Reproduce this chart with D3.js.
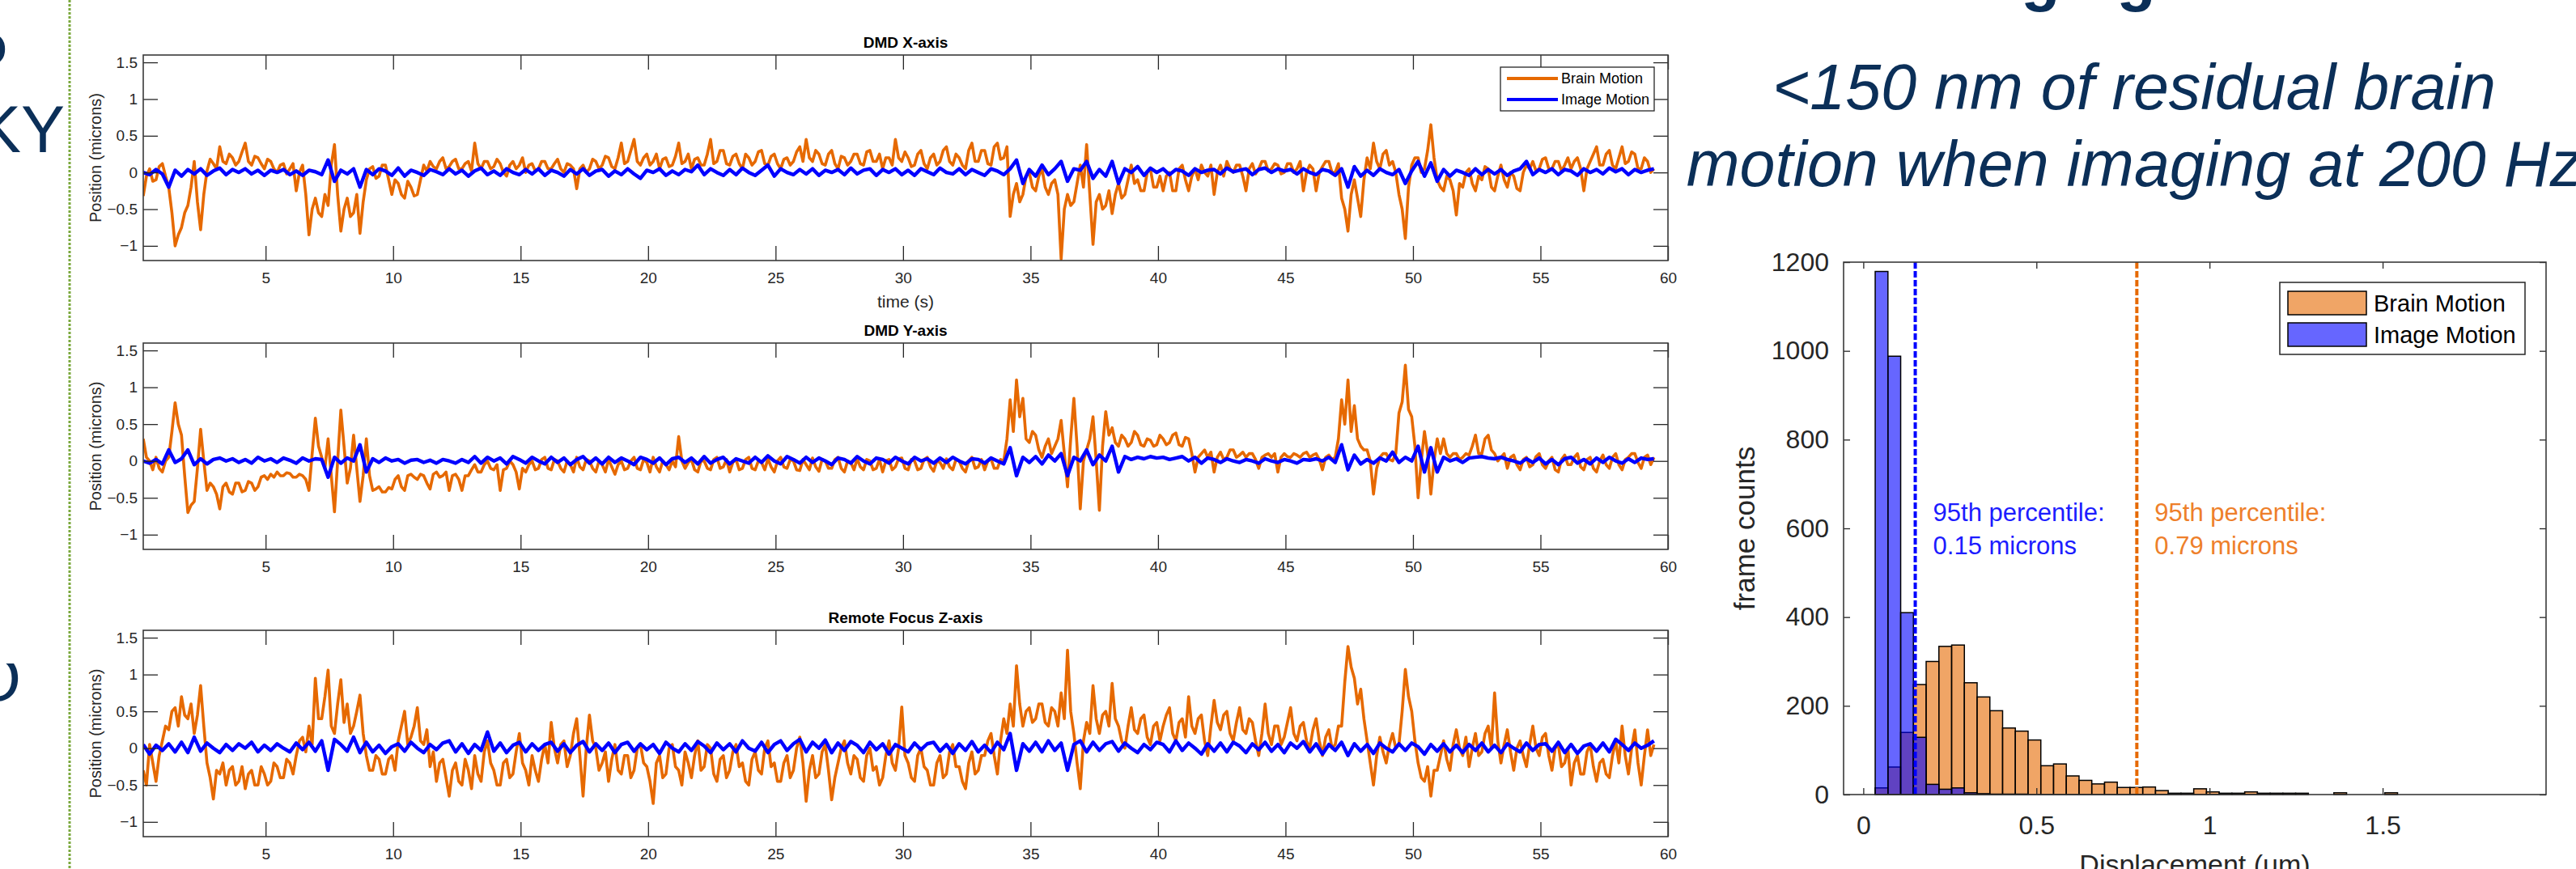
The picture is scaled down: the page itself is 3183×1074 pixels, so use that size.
<!DOCTYPE html>
<html><head><meta charset="utf-8">
<script src="https://cdn.jsdelivr.net/npm/d3@7"></script>
<style>body{margin:0;background:#fff;overflow:hidden}svg{display:block;font-family:"Liberation Sans",Arial,Helvetica,sans-serif}</style>
</head><body><svg id="c" width="3183" height="1074"></svg>
<script>
// ---- time series: samples start at T0 seconds; brain every BRAIN_DT s, image every IMAGE_DT s ----
const T0 = 0.2, BRAIN_DT = 0.125, IMAGE_DT = 0.25;
const brainX = [
-0.32,-0.05,0.05,-0.12,-0.1,0.08,0.12,-0.05, -0.2,-0.55,-1.0,-0.85,-0.75,-0.55,-0.45,-0.2,
0.15,-0.4,-0.78,-0.3,0.02,0.18,0.12,0.05, 0.35,0.15,0.12,0.25,0.2,0.1,0.15,0.28,
0.4,0.15,0.1,0.22,0.2,0.12,0.05,0.18, 0.15,0.05,0.0,0.1,0.12,-0.02,0.05,0.12,
-0.25,0.0,0.1,-0.3,-0.85,-0.5,-0.35,-0.55, -0.6,-0.3,-0.45,0.1,0.38,-0.3,-0.8,-0.5,
-0.35,-0.6,-0.55,-0.3,-0.83,-0.4,-0.1,0.05, 0.08,-0.08,-0.05,0.1,0.1,-0.1,-0.3,-0.1,
-0.15,-0.3,-0.35,-0.12,-0.2,-0.32,-0.3,-0.1, 0.1,0.02,0.15,0.08,0.05,0.15,0.2,0.05,
0.08,0.15,0.18,0.05,0.05,0.12,0.15,0.02, 0.4,0.12,0.05,0.15,0.15,0.05,0.08,0.18,
0.12,0.0,-0.05,0.1,0.15,0.05,0.1,0.2, 0.0,0.1,0.12,0.02,0.05,0.15,0.15,0.05,
0.05,0.12,0.18,0.05,0.0,0.12,0.1,0.05, -0.22,0.05,0.1,0.0,0.05,0.18,0.15,0.05,
0.1,0.22,0.2,0.08,0.05,0.2,0.4,0.12, 0.15,0.3,0.45,0.15,0.1,0.2,0.25,0.1,
0.15,0.25,0.05,0.18,0.2,0.08,0.1,0.22, 0.4,0.12,0.15,0.25,0.05,0.18,0.2,0.1,
0.1,0.25,0.45,0.12,0.15,0.3,0.3,0.12, 0.1,0.22,0.25,0.12,0.05,0.25,0.2,0.1,
0.15,0.28,0.3,0.12,0.1,0.22,0.25,0.12, 0.05,0.18,0.2,0.1,0.15,0.28,0.35,0.15,
0.45,0.2,0.15,0.3,0.25,0.12,0.1,0.25, 0.3,0.12,0.05,0.22,0.2,0.1,0.15,0.25,
0.25,0.12,0.1,0.28,0.3,0.15,0.15,0.25, 0.05,0.2,0.2,0.1,0.45,0.2,0.15,0.28,
0.2,0.08,0.1,0.25,0.3,0.12,0.05,0.2, 0.25,0.1,0.15,0.3,0.35,0.15,0.1,0.25,
0.2,0.1,0.05,0.3,0.4,0.15,0.15,0.3, 0.3,0.12,0.1,0.35,0.4,0.18,0.2,0.35,
-0.6,-0.3,-0.15,-0.4,-0.3,-0.05,0.0,-0.2, -0.25,-0.05,0.05,-0.2,-0.3,-0.15,-0.1,-0.3,
-1.18,-0.5,-0.3,-0.45,-0.4,-0.15,0.1,-0.2, 0.38,-0.3,-0.98,-0.4,-0.3,-0.5,-0.45,-0.25,
-0.56,-0.3,-0.15,-0.35,-0.3,-0.1,0.1,-0.15, -0.1,-0.25,-0.25,0.0,0.05,-0.2,-0.2,-0.05,
-0.25,-0.05,0.0,-0.25,-0.25,0.05,0.1,-0.1, -0.25,-0.05,0.05,-0.1,0.1,0.0,-0.05,0.1,
-0.3,0.0,0.1,-0.05,0.15,0.05,0.0,0.1, 0.1,-0.05,-0.25,0.05,0.12,-0.02,0.05,0.15,
0.15,0.02,0.05,0.12,0.1,-0.02,0.0,0.12, 0.12,0.0,0.05,0.15,-0.25,0.0,0.1,0.05,
-0.25,0.0,0.08,0.15,0.15,0.0,0.0,0.12, -0.35,-0.5,-0.8,-0.3,-0.1,-0.35,-0.6,-0.1,
0.2,0.05,0.4,0.15,0.05,0.25,0.3,0.1, 0.15,0.0,-0.3,-0.5,-0.9,-0.2,0.1,0.2,
0.2,0.0,0.05,0.3,0.65,0.2,-0.1,-0.2, -0.25,-0.05,-0.1,-0.25,-0.58,-0.15,-0.2,0.0,
0.05,-0.15,-0.25,-0.05,-0.1,0.08,0.05,-0.2, -0.25,-0.05,0.1,-0.1,-0.2,0.0,-0.05,-0.22,
-0.25,0.0,0.1,0.05,0.15,0.02,0.05,0.18, 0.2,0.05,0.05,0.15,0.15,0.02,0.1,0.2,
0.05,0.15,0.2,0.05,-0.25,0.05,0.15,0.25, 0.35,0.1,0.1,0.25,0.3,0.1,0.05,0.2,
0.35,0.12,0.15,0.28,0.25,0.05,0.05,0.2, 0.15,0.0,0.05];
const imageX = [
0.0,-0.03,0.04,-0.02, -0.2,0.03,-0.05,0.04, -0.02,0.05,-0.04,0.02, 0.06,-0.03,0.04,0.0, 0.05,-0.02,0.03,-0.04,
0.03,0.0,0.04,-0.03, 0.02,-0.04,0.03,0.01, -0.03,0.17,-0.12,0.03, -0.02,0.05,-0.2,0.04, -0.03,0.05,0.02,-0.04,
0.06,-0.05,0.03,0.0, -0.04,0.04,0.01,-0.03, 0.05,-0.02,0.03,-0.05, 0.02,0.06,-0.03,0.02, -0.04,0.05,0.0,-0.03,
0.04,-0.02,0.05,-0.04, 0.03,0.0,-0.05,0.04, -0.02,0.05,-0.04,0.02, 0.04,-0.05,0.02,-0.03, 0.05,-0.02,-0.08,0.03,
0.0,0.05,-0.04,0.02, -0.03,0.04,0.01,0.1, -0.03,0.05,0.0,-0.04, 0.04,-0.03,0.06,0.0, -0.04,0.03,0.1,-0.05,
0.05,0.0,-0.03,0.04, -0.02,0.05,-0.04,0.03, 0.0,0.04,-0.03,0.06, -0.02,0.03,0.05,-0.04, 0.04,0.0,0.05,-0.03,
0.03,-0.04,0.05,0.01, -0.03,0.06,0.0,-0.02, 0.05,-0.03,0.04,0.0, -0.04,0.05,0.02,-0.03, 0.05,0.17,-0.15,0.04,
-0.05,0.1,-0.03,0.05, 0.15,-0.12,0.05,0.03, 0.15,-0.08,0.04,-0.05, 0.15,-0.15,0.05,0.0, 0.08,-0.04,0.06,0.0,
0.05,-0.03,0.04,0.02, -0.04,0.05,0.0,0.03, 0.04,-0.02,0.06,0.01, 0.03,0.05,-0.03,0.04, 0.06,0.0,0.05,0.02,
0.04,-0.02,0.05,0.0, -0.03,0.04,0.02,-0.04, 0.05,-0.2,0.08,-0.05, 0.03,-0.04,0.05,0.0, -0.03,0.04,-0.15,0.02,
0.15,-0.05,0.13,-0.12, 0.04,-0.05,0.03,0.0, -0.04,0.05,-0.03,0.04, -0.02,0.04,-0.04,0.02, 0.05,0.15,-0.03,0.04,
0.0,0.05,-0.03,0.04, 0.02,-0.04,0.05,0.0, 0.04,-0.02,0.06,0.01, 0.05,-0.03,0.04,0.0, 0.03,0.05];
const brainY = [
0.3,0.05,0.0,-0.12,0.05,-0.1,-0.15,0.0, 0.05,0.4,0.79,0.5,0.35,-0.2,-0.7,-0.6,
-0.55,-0.1,0.43,0.0,-0.4,-0.3,-0.35,-0.45, -0.65,-0.35,-0.3,-0.42,-0.45,-0.3,-0.3,-0.42,
-0.4,-0.28,-0.3,-0.4,-0.35,-0.22,-0.2,-0.25, -0.18,-0.22,-0.15,-0.2,-0.2,-0.16,-0.17,-0.22,
-0.22,-0.18,-0.2,-0.25,-0.4,0.1,0.58,0.2, 0.05,-0.1,0.3,-0.2,-0.69,0.0,0.69,0.2,
-0.3,-0.1,0.35,-0.1,-0.55,-0.2,0.3,-0.2, -0.4,-0.38,-0.35,-0.42,-0.42,-0.36,-0.38,-0.25,
-0.2,-0.35,-0.4,-0.2,-0.18,-0.22,-0.25,-0.18, -0.2,-0.3,-0.38,-0.18,-0.15,-0.22,-0.2,-0.15,
-0.4,-0.2,-0.18,-0.25,-0.4,-0.2,-0.2,-0.12, -0.05,-0.15,-0.15,-0.05,0.0,-0.1,-0.12,-0.05,
-0.4,-0.12,-0.1,0.0,-0.05,-0.15,-0.38,-0.1, -0.15,-0.05,0.0,-0.12,-0.1,0.02,0.05,-0.1,
-0.12,0.02,0.0,-0.1,-0.15,0.0,-0.05,-0.15, 0.05,-0.08,-0.12,0.02,0.0,-0.1,-0.15,0.0,
-0.05,-0.15,0.02,-0.08,-0.18,-0.05,0.0,-0.12, -0.1,0.0,0.05,-0.1,-0.12,0.02,-0.02,-0.15,
0.05,-0.08,-0.15,0.0,-0.05,-0.12,0.0,-0.08, 0.33,0.0,-0.1,-0.02,0.02,-0.12,-0.15,0.0,
0.0,-0.1,-0.12,0.02,0.05,-0.1,-0.08,0.02, -0.15,-0.02,0.02,-0.12,-0.1,0.02,0.05,-0.1,
-0.12,0.0,-0.02,-0.12,0.03,-0.08,-0.15,0.0, 0.05,-0.08,-0.1,0.02,0.0,-0.12,-0.13,0.02,
-0.05,-0.12,0.04,-0.08,-0.14,0.02,0.0,-0.1, -0.1,0.02,0.05,-0.1,-0.15,0.0,-0.02,-0.12,
0.03,-0.08,-0.12,0.02,0.0,-0.12,-0.1,0.02, -0.15,0.0,0.02,-0.12,-0.08,0.03,0.04,-0.1,
-0.12,0.02,0.0,-0.12,-0.1,0.02,0.05,-0.08, -0.14,0.0,-0.02,-0.1,0.03,-0.08,-0.12,0.02,
0.0,-0.1,-0.15,0.0,0.05,-0.1,-0.08,0.02, -0.12,0.0,0.03,-0.1,-0.1,0.02,0.0,0.3,
0.83,0.4,1.1,0.6,0.85,0.3,0.25,0.4, 0.35,0.15,0.05,0.2,0.3,0.1,0.2,0.3,
0.55,0.1,-0.35,0.3,0.85,0.2,-0.65,0.0, 0.15,0.3,0.6,0.0,-0.67,0.2,0.67,0.35,
0.45,0.25,0.2,0.35,0.3,0.2,0.25,0.4, 0.35,0.22,0.2,0.3,0.28,0.2,0.22,0.35,
0.3,0.22,0.25,0.35,0.38,0.22,0.2,0.32, 0.3,0.1,-0.15,0.05,0.1,0.15,0.05,0.12,
-0.15,0.05,0.12,0.02,0.05,0.15,0.15,0.05, 0.08,0.12,0.05,0.1,0.1,0.02,-0.1,0.05,
0.08,0.1,0.05,0.1,-0.15,0.05,0.1,0.06, 0.05,0.1,0.08,0.05,0.1,0.12,0.05,0.08,
0.1,0.02,-0.12,0.05,0.08,0.02,0.05,0.3, 0.83,0.5,1.1,0.4,0.75,0.3,0.2,0.15,
0.15,0.0,-0.45,-0.1,0.05,0.1,0.1,0.02, 0.0,0.1,0.65,0.8,1.3,0.7,0.6,0.2,
-0.5,0.0,0.4,0.1,-0.45,0.0,0.3,0.1, 0.3,0.1,0.05,0.1,0.1,0.02,0.05,0.1,
0.08,0.2,0.35,0.1,0.1,0.3,0.35,0.15, 0.1,0.0,0.05,0.1,-0.1,0.05,0.08,-0.05,
-0.12,0.02,0.05,-0.08,-0.05,0.06,0.1,-0.05, -0.1,0.0,0.05,-0.12,-0.15,0.02,0.08,-0.05,
-0.05,0.05,0.1,-0.08,-0.12,0.02,0.05,-0.1, -0.15,0.0,0.08,-0.05,-0.1,0.05,0.1,-0.05,
-0.12,0.02,0.05,0.1,0.1,-0.02,-0.1,0.05, 0.08,-0.05,0.05];
const imageY = [
0.0,-0.03,0.02,-0.04, 0.15,-0.02,0.03,0.15, -0.05,0.03,-0.04,0.02, 0.04,0.0,0.03,-0.02, 0.02,-0.03,0.05,0.0,
0.03,-0.02,0.04,0.01, -0.03,0.04,0.0,0.03, 0.02,-0.22,0.05,-0.03, 0.04,0.0,0.22,-0.15, 0.03,-0.02,0.04,0.0,
0.02,-0.03,0.01,0.02, -0.02,0.01,-0.03,0.02, 0.0,-0.03,0.02,-0.02, 0.06,-0.03,0.05,0.0, 0.04,-0.04,0.06,0.02,
-0.03,0.05,0.0,-0.04, 0.05,-0.02,0.04,-0.05, 0.02,0.06,-0.03,0.04, -0.04,0.05,-0.02,0.04, 0.0,-0.05,0.05,0.02,
-0.03,0.04,-0.05,0.03, 0.05,-0.02,0.04,-0.04, 0.06,-0.03,0.02,0.05, -0.04,0.03,0.0,-0.03, 0.05,-0.02,0.07,0.0,
-0.04,0.06,0.02,-0.03, 0.05,-0.02,0.04,0.0, -0.05,0.04,0.02,-0.03, 0.06,0.0,-0.04,0.04, 0.02,-0.03,0.05,0.0,
-0.04,0.05,0.0,0.03, -0.03,0.04,-0.02,0.05, 0.0,-0.04,0.03,0.02, -0.03,0.04,0.0,-0.04, 0.18,-0.2,0.05,-0.02,
0.06,-0.04,0.08,0.0, 0.1,-0.2,0.05,0.0, 0.15,-0.05,0.08,0.0, 0.2,-0.15,0.06,0.02, 0.05,0.03,0.06,0.04,
0.05,0.02,0.04,0.06, 0.0,0.05,-0.03,0.04, 0.02,-0.02,0.03,0.0, -0.02,0.02,0.0,-0.03, 0.03,0.0,-0.02,0.02,
0.0,-0.03,0.02,0.01, 0.03,0.0,0.05,-0.02, 0.22,-0.12,0.08,-0.04, 0.02,-0.03,0.04,0.0, 0.12,-0.02,0.05,0.0,
0.2,-0.15,0.18,-0.15, 0.05,0.0,0.03,-0.02, 0.04,0.05,0.06,0.04, 0.03,0.05,0.02,0.0, -0.03,0.03,-0.02,0.04,
-0.04,0.02,-0.05,0.03, 0.05,-0.03,0.02,-0.04, 0.04,-0.02,0.05,0.0, -0.03,0.03,-0.02,0.04, 0.02,0.03];
const brainZ = [
-0.3,-0.5,0.05,-0.2,-0.45,-0.1,0.1,0.3, 0.25,0.5,0.55,0.3,0.7,0.45,0.4,0.6,
0.2,0.45,0.85,0.3,-0.2,-0.4,-0.69,-0.3, -0.35,-0.2,-0.5,-0.3,-0.25,-0.5,-0.45,-0.25,
-0.55,-0.35,-0.3,-0.5,-0.5,-0.25,-0.35,-0.5, -0.45,-0.2,-0.25,-0.4,-0.4,-0.15,-0.2,-0.35,
-0.1,0.1,0.15,-0.05,0.3,0.05,0.95,0.4, 0.4,0.7,1.06,0.3,0.2,0.6,0.93,0.35,
0.6,0.2,0.3,0.5,0.72,0.2,-0.1,-0.3, -0.3,-0.1,-0.15,-0.35,-0.35,-0.15,-0.1,-0.3,
0.1,0.3,0.5,0.05,0.15,0.3,0.55,0.1, 0.05,0.25,-0.25,-0.05,-0.45,-0.2,-0.15,-0.4,
-0.65,-0.3,-0.2,-0.45,-0.5,-0.15,-0.3,-0.55, -0.1,-0.35,-0.45,-0.05,0.1,-0.2,-0.3,-0.5,
-0.5,-0.2,-0.15,-0.4,-0.35,-0.05,0.2,-0.2, -0.3,-0.5,-0.1,-0.3,-0.45,-0.15,0.05,-0.2,
0.35,0.0,-0.2,0.05,0.1,-0.25,-0.1,0.2, 0.4,-0.1,-0.65,0.0,0.45,0.1,0.0,-0.3,
-0.2,-0.05,-0.45,-0.15,0.05,-0.3,-0.35,-0.1, -0.1,-0.4,-0.3,0.0,0.05,-0.2,-0.25,-0.45,
-0.75,-0.2,-0.1,-0.4,-0.35,0.0,0.05,-0.25, -0.3,-0.5,-0.05,-0.2,-0.4,-0.1,0.1,-0.3,
-0.25,0.05,0.0,-0.35,-0.45,-0.15,-0.1,-0.4, -0.3,-0.05,0.05,-0.25,-0.2,-0.45,-0.5,-0.15,
-0.05,-0.3,-0.35,0.0,0.1,-0.25,-0.2,-0.45, -0.45,-0.2,-0.1,-0.4,-0.3,0.0,0.15,-0.2,
-0.72,-0.3,-0.1,-0.4,-0.35,-0.05,0.05,-0.3, -0.7,-0.4,-0.2,0.0,0.1,-0.2,-0.35,-0.1,
-0.15,-0.4,-0.45,-0.1,0.0,-0.3,-0.25,-0.5, -0.4,-0.1,0.1,-0.2,-0.3,0.0,0.56,-0.1,
-0.2,-0.4,-0.45,-0.1,0.0,-0.25,-0.3,-0.5, -0.5,-0.2,-0.1,-0.4,-0.35,-0.05,0.05,-0.25,
-0.25,-0.45,-0.55,-0.2,-0.05,-0.35,-0.3,-0.1, -0.1,0.1,0.2,-0.1,-0.35,0.1,0.4,0.2,
0.6,0.3,1.12,0.6,0.3,0.5,0.55,0.35, 0.4,0.6,0.6,0.35,0.3,0.55,0.5,0.3,
0.75,0.4,1.33,0.5,0.2,-0.2,-0.55,0.1, 0.35,0.2,0.85,0.4,0.2,0.45,0.5,0.3,
0.88,0.4,0.3,0.1,0.0,0.3,0.55,0.25, 0.2,0.4,0.45,0.15,0.05,0.3,0.35,0.1,
0.3,0.45,0.55,0.2,0.1,0.35,0.4,0.15, 0.7,0.3,0.2,0.4,0.45,0.1,-0.1,0.3,
0.65,0.35,0.25,0.45,0.5,0.2,0.1,0.35, 0.55,0.25,0.2,0.4,0.35,0.1,-0.1,0.2,
0.6,0.2,0.05,0.3,0.3,0.05,0.15,0.35, 0.55,0.2,0.1,0.3,0.35,0.1,0.0,0.25,
0.4,0.1,-0.1,0.15,0.25,0.0,0.05,0.3, 0.3,0.9,1.38,1.1,0.95,0.6,0.8,0.4,
0.1,-0.2,-0.5,-0.1,0.15,-0.05,-0.2,0.05, 0.2,0.0,0.05,0.5,1.07,0.7,0.5,0.1,
-0.2,-0.4,-0.45,-0.25,-0.65,-0.3,-0.3,-0.1, 0.1,-0.15,-0.3,0.05,0.25,0.0,-0.1,0.15,
-0.25,0.0,0.2,-0.1,-0.05,0.2,0.3,0.0, 0.75,0.1,-0.2,0.05,0.25,-0.05,-0.3,0.0,
0.1,-0.1,-0.25,0.05,0.3,0.0,-0.1,0.15, 0.2,-0.1,-0.3,0.0,0.05,-0.25,-0.2,0.0,
-0.5,-0.2,-0.1,-0.35,-0.35,-0.05,0.05,-0.25, -0.45,-0.2,-0.15,-0.35,-0.4,-0.1,0.1,-0.2,
0.3,-0.1,-0.35,0.0,0.25,-0.2,-0.5,-0.1, 0.25,-0.1,0.05];
const imageZ = [
0.05,-0.08,0.04,-0.03, 0.06,-0.05,0.08,-0.06, 0.15,-0.04,0.07,0.0, -0.06,0.05,-0.03,0.06, 0.0,0.08,-0.05,0.04,
-0.03,0.06,0.0,-0.05, 0.07,-0.02,0.08,-0.04, 0.1,-0.3,0.12,0.05, -0.04,0.15,-0.06,0.08, -0.05,0.04,-0.07,0.02,
0.06,-0.04,0.08,0.0, -0.06,0.05,-0.02,0.07, 0.1,-0.05,0.06,-0.07, 0.05,-0.03,0.22,-0.04, 0.07,-0.06,0.04,0.08,
-0.05,0.06,-0.03,0.05, 0.08,-0.04,0.06,-0.06, 0.04,0.09,-0.05,0.06, -0.03,0.07,-0.06,0.05, 0.08,-0.04,0.06,-0.02,
0.05,-0.07,0.08,0.0, -0.05,0.06,-0.03,0.09, 0.03,-0.06,0.07,-0.02, 0.06,-0.05,0.1,0.0, -0.04,0.08,-0.06,0.05,
0.1,-0.03,0.06,0.12, -0.05,0.08,0.0,0.11, -0.06,0.07,-0.03,0.09, 0.04,-0.06,0.08,-0.02, 0.06,-0.08,0.05,0.0,
-0.05,0.07,-0.02,0.06, 0.08,-0.04,0.05,-0.07, 0.06,-0.03,0.09,-0.05, 0.04,-0.06,0.08,-0.02, 0.2,-0.3,0.06,-0.04,
0.08,-0.05,0.1,-0.03, 0.07,-0.3,0.05,0.1, -0.05,0.08,-0.03,0.06, 0.09,-0.04,0.07,0.0, -0.06,0.05,-0.02,0.08,
0.05,-0.05,0.1,-0.03, 0.07,0.0,-0.08,0.06, -0.04,0.07,-0.05,0.08, 0.03,-0.06,0.06,-0.02, 0.08,-0.04,0.05,-0.06,
0.07,0.0,0.09,-0.05, 0.06,-0.08,0.05,-0.03, 0.08,-0.1,0.06,-0.04, 0.05,-0.07,0.07,0.0, -0.05,0.06,-0.03,0.07,
0.02,-0.08,0.05,-0.04, 0.06,-0.05,0.04,-0.06, 0.05,-0.03,0.07,-0.05, 0.04,-0.06,0.06,0.0, -0.05,0.07,-0.03,0.05,
0.06,-0.04,0.08,-0.06, 0.05,-0.07,0.03,0.06, -0.04,0.07,-0.05,0.12, 0.05,-0.03,0.07,0.0, 0.04,0.1];
const panelTitles = ["DMD X-axis", "DMD Y-axis", "Remote Focus Z-axis"];
const timeTicks = [5,10,15,20,25,30,35,40,45,50,55,60];
const posTicks = [-1,-0.5,0,0.5,1,1.5];
const seriesNames = ["Brain Motion", "Image Motion"];

// ---- histogram of displacement ----
const binStart = 0.0343, binWidth = 0.0368;
const brainCounts = [15,62,140,248,300,334,337,252,220,189,150,143,123,65,69,42,32,24,28,16,16,17,9,3,3,13,6,3,3,6,3,3,3,3,0,0,4,0,0,0,4];
const imageCounts = [1179,988,410,129,23,12,15,4,2,1,1,1];
const histXTicks = [0,0.5,1,1.5];
const histYTicks = [0,200,400,600,800,1000,1200];
const percentiles = [0.15, 0.79]; // image, brain
const pctLabels = [["95th percentile:","0.15 microns"],["95th percentile:","0.79 microns"]];

// ---- colours ----
const ORANGE = "#e66900", BLUE = "#0000ff", NAVY = "#0b2f58", AX = "#262626";

const svg = d3.select("#c");

// slide fragments around the charts
svg.append("line").attr("x1",86).attr("x2",86).attr("y1",0).attr("y2",1074)
  .attr("stroke","#7aa83c").attr("stroke-width",3).attr("stroke-dasharray","3,2");
svg.append("text").attr("x",80).attr("y",188).attr("text-anchor","end")
  .attr("font-size",81).attr("fill",NAVY).text("KY");
svg.append("text").attr("x",9).attr("y",80).attr("text-anchor","end")
  .attr("font-size",72).attr("font-weight","bold").attr("fill",NAVY).text("o");
svg.append("clipPath").attr("id","clipO").append("rect").attr("x",0).attr("y",820).attr("width",60).attr("height",80);
svg.append("text").attr("x",26).attr("y",866).attr("text-anchor","end").attr("clip-path","url(#clipO)")
  .attr("font-size",80).attr("fill",NAVY).text("O");
svg.append("text").attr("x",2361).attr("y",-2).attr("font-size",79).attr("font-weight","bold")
  .attr("fill",NAVY).text("Imaging");
const sub = svg.append("text").attr("text-anchor","middle").attr("font-size",79)
  .attr("font-style","italic").attr("fill",NAVY);
sub.append("tspan").attr("x",2637).attr("y",135).text("<150 nm of residual brain");
sub.append("tspan").attr("x",2637).attr("y",230).text("motion when imaging at 200 Hz");

// ---- time-series panels ----
const panels = [
  {brain: brainX, image: imageX, top: 68, bottom: 322},
  {brain: brainY, image: imageY, top: 424, bottom: 679},
  {brain: brainZ, image: imageZ, top: 779, bottom: 1034}
];
const x = d3.scaleLinear().domain([0.2, 60]).range([177, 2061]);

function styleAxis(g, fs){
  g.select(".domain").remove();
  g.selectAll("line").attr("stroke", AX).attr("stroke-width", 1.3);
  g.selectAll("text").attr("font-size", fs).attr("fill", AX).attr("font-family","'Liberation Sans',Arial,sans-serif");
}

panels.forEach((p, i) => {
  const y = d3.scaleLinear().domain([-1.2, 1.6]).range([p.bottom, p.top]);
  const g = svg.append("g");
  const cid = "clip" + i;
  g.append("clipPath").attr("id", cid).append("rect")
    .attr("x", x.range()[0]).attr("y", p.top).attr("width", x.range()[1]-x.range()[0]).attr("height", p.bottom-p.top);
  const brainLine = d3.line().x((d, j) => x(T0 + j*BRAIN_DT)).y(d => y(d));
  const imageLine = d3.line().x((d, j) => x(T0 + j*IMAGE_DT)).y(d => y(d));
  g.append("path").datum(p.brain).attr("d", brainLine).attr("fill","none")
    .attr("stroke", ORANGE).attr("stroke-width", 3.6).attr("stroke-linejoin","round").attr("clip-path",`url(#${cid})`);
  g.append("path").datum(p.image).attr("d", imageLine).attr("fill","none")
    .attr("stroke", BLUE).attr("stroke-width", 4.4).attr("stroke-linejoin","round").attr("clip-path",`url(#${cid})`);

  styleAxis(g.append("g").attr("transform",`translate(0,${p.bottom})`)
    .call(d3.axisBottom(x).tickValues(timeTicks).tickSizeInner(-18).tickSizeOuter(0).tickPadding(15)), 19);
  styleAxis(g.append("g").attr("transform",`translate(0,${p.top})`)
    .call(d3.axisTop(x).tickValues(timeTicks).tickSizeInner(-18).tickSizeOuter(0).tickFormat("")), 19);
  styleAxis(g.append("g").attr("transform",`translate(${x.range()[0]},0)`)
    .call(d3.axisLeft(y).tickValues(posTicks).tickSizeInner(-18).tickSizeOuter(0).tickPadding(7).tickFormat(d3.format("~g"))), 19);
  styleAxis(g.append("g").attr("transform",`translate(${x.range()[1]},0)`)
    .call(d3.axisRight(y).tickValues(posTicks).tickSizeInner(-18).tickSizeOuter(0).tickFormat("")), 19);
  g.append("rect").attr("x", x.range()[0]).attr("y", p.top).attr("width", x.range()[1]-x.range()[0])
    .attr("height", p.bottom-p.top).attr("fill","none").attr("stroke", "#3a3a3a").attr("stroke-width", 1.6);

  g.append("text").attr("x", 1119).attr("y", p.top - 9).attr("text-anchor","middle")
    .attr("font-size", 19).attr("font-weight","bold").attr("fill","#000").text(panelTitles[i]);
  g.append("text").attr("transform", `translate(118,${(p.top+p.bottom)/2}) rotate(-90)`)
    .attr("text-anchor","middle").attr("dominant-baseline","central")
    .attr("font-size", 20).attr("fill", AX).text("Position (microns)");
  if (i === 0) {
    g.append("text").attr("x", 1119).attr("y", 380).attr("text-anchor","middle")
      .attr("font-size", 21).attr("fill", AX).text("time (s)");
    const lg = g.append("g");
    lg.append("rect").attr("x",1854).attr("y",83).attr("width",190).attr("height",54)
      .attr("fill","#fff").attr("stroke",AX).attr("stroke-width",1.3);
    [ORANGE, BLUE].forEach((c, k) => {
      const yy = 97 + k*26;
      lg.append("line").attr("x1",1862).attr("x2",1925).attr("y1",yy).attr("y2",yy)
        .attr("stroke",c).attr("stroke-width",4);
      lg.append("text").attr("x",1929).attr("y",yy).attr("dominant-baseline","central")
        .attr("font-size",18).attr("fill","#000").text(seriesNames[k]);
    });
  }
});

// ---- histogram ----
const hx = d3.scaleLinear().domain([-0.057, 1.972]).range([2278, 3146]);
const hy = d3.scaleLinear().domain([0, 1200]).range([982, 324]);
const hg = svg.append("g");
function bars(counts, color){
  hg.append("g").selectAll("rect").data(counts.map((c, j) => ({c, j})).filter(d => d.c > 0))
    .join("rect")
    .attr("x", d => hx(binStart + d.j*binWidth))
    .attr("width", d => hx(binStart + (d.j+1)*binWidth) - hx(binStart + d.j*binWidth))
    .attr("y", d => hy(d.c)).attr("height", d => hy(0) - hy(d.c))
    .attr("fill", color).attr("fill-opacity", 0.6).attr("stroke", "#000").attr("stroke-width", 1.5);
}
bars(brainCounts, ORANGE);
bars(imageCounts, BLUE);
[BLUE, ORANGE].forEach((c, k) => {
  hg.append("line").attr("x1", hx(percentiles[k])).attr("x2", hx(percentiles[k]))
    .attr("y1", hy(1200)).attr("y2", hy(0)).attr("stroke", c).attr("stroke-width", 4)
    .attr("stroke-dasharray", "8,3");
});
const pctColors = ["#1c1cff", "#ee7f2a"];
[0,1].forEach(k => {
  const t = hg.append("text").attr("font-size", 31).attr("fill", pctColors[k]);
  t.append("tspan").attr("x", hx(percentiles[k]) + 22).attr("y", 644).text(pctLabels[k][0]);
  t.append("tspan").attr("x", hx(percentiles[k]) + 22).attr("y", 685).text(pctLabels[k][1]);
});
styleAxis(hg.append("g").attr("transform",`translate(0,${hy(0)})`)
  .call(d3.axisBottom(hx).tickValues(histXTicks).tickSizeInner(-8).tickSizeOuter(0).tickPadding(26).tickFormat(d3.format("~g"))), 32);
styleAxis(hg.append("g").attr("transform",`translate(0,${hy(1200)})`)
  .call(d3.axisTop(hx).tickValues(histXTicks).tickSizeInner(-8).tickSizeOuter(0).tickFormat("")), 32);
styleAxis(hg.append("g").attr("transform",`translate(${hx.range()[0]},0)`)
  .call(d3.axisLeft(hy).tickValues(histYTicks).tickSizeInner(-8).tickSizeOuter(0).tickPadding(18).tickFormat(d3.format("d"))), 32);
styleAxis(hg.append("g").attr("transform",`translate(${hx.range()[1]},0)`)
  .call(d3.axisRight(hy).tickValues(histYTicks).tickSizeInner(-8).tickSizeOuter(0).tickFormat("")), 32);
hg.append("rect").attr("x", hx.range()[0]).attr("y", hy(1200)).attr("width", hx.range()[1]-hx.range()[0])
  .attr("height", hy(0)-hy(1200)).attr("fill","none").attr("stroke","#3a3a3a").attr("stroke-width",1.6);
hg.append("text").attr("transform", `translate(2155,653) rotate(-90)`).attr("text-anchor","middle")
  .attr("dominant-baseline","central").attr("font-size", 35).attr("fill", AX).text("frame counts");
hg.append("text").attr("x", 2712).attr("y", 1080).attr("text-anchor","middle")
  .attr("font-size", 34).attr("fill", AX).text("Displacement (um)");
const hl = hg.append("g");
hl.append("rect").attr("x",2817).attr("y",349).attr("width",303).attr("height",89)
  .attr("fill","#fff").attr("stroke",AX).attr("stroke-width",1.5);
[ORANGE, BLUE].forEach((c, k) => {
  const yy = 360 + k*39;
  hl.append("rect").attr("x",2827).attr("y",yy).attr("width",97).attr("height",29)
    .attr("fill",c).attr("fill-opacity",0.6).attr("stroke","#000").attr("stroke-width",1.5);
  hl.append("text").attr("x",2933).attr("y",yy+15).attr("dominant-baseline","central")
    .attr("font-size",29).attr("fill","#000").text(seriesNames[k]);
});
</script></body></html>
